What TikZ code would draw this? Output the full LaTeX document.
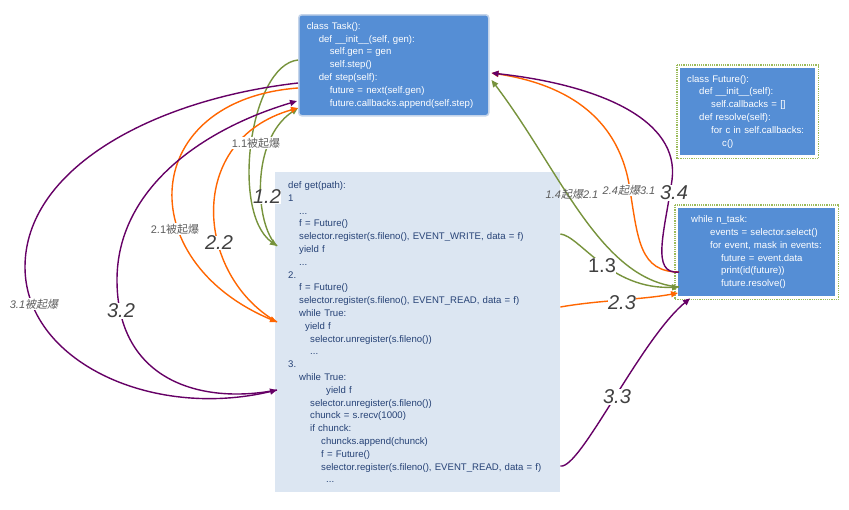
\documentclass[tikz,border=0pt]{standalone}
\usepackage{fontspec}
\setmainfont{Liberation Sans}
\newfontfamily\cjkfont{Noto Sans CJK SC}
\newfontfamily\cjkslant{Noto Sans CJK SC}[FakeSlant=0.2]
\usepackage{xcolor}
\usepackage{tikz}
\usetikzlibrary{arrows.meta, calc}
\definecolor{taskblue}{RGB}{85, 142, 213}
\definecolor{taskedge}{RGB}{196, 212, 234}
\definecolor{getfill}{RGB}{220, 230, 242}
\definecolor{gettext}{RGB}{38, 66, 118}
\definecolor{framegreen}{RGB}{155, 187, 89}
\definecolor{stepgreen}{RGB}{119, 147, 60}
\definecolor{steporange}{RGB}{255, 102, 0}
\definecolor{steppurple}{RGB}{102, 0, 102}
\definecolor{labelgray}{RGB}{64, 64, 64}

\newcommand{\ind}[1]{\hspace*{#1pt}}
\newcommand{\zh}[1]{{\cjkfont #1}}
\newcommand{\zhit}[1]{{\cjkslant #1}}

\tikzset{
    codebox/.style={anchor=north west, fill=taskblue, text=white, align=left,
                    font=\fontsize{9.6}{12.8}\selectfont, inner ysep=0pt},
    getbox/.style={anchor=north west, fill=getfill, text=gettext, align=left,
                   font=\fontsize{9.6}{12.8}\selectfont, inner ysep=0pt},
    dotframe/.style={draw=framegreen, densely dotted, line width=1.2pt},
    flow/.style={line width=1.4pt, -{Triangle[length=7pt, width=6pt]}},
    biglabel/.style={font=\fontsize{20}{20}\selectfont\itshape, text=labelgray,
                     fill=white, inner sep=0.5pt},
    smalllabel/.style={font=\fontsize{11}{11}\selectfont, text=labelgray!85,
                       fill=white, inner sep=0.5pt}
}

\begin{document}
\begin{tikzpicture}[x=1pt, y=-1pt]
    \path[use as bounding box, fill=white] (0,0) rectangle (849,509);

    % code boxes
    \node[codebox, draw=taskedge, line width=1.5pt, rounded corners=3pt,
          text width=174pt, inner xsep=8pt, minimum height=101pt] (task) at (298,14) {
        class Task():\\
        \ind{12}def \_\_init\_\_(self, gen):\\
        \ind{23}self.gen = gen\\
        \ind{23}self.step()\\
        \ind{12}def step(self):\\
        \ind{23}future = next(self.gen)\\
        \ind{23}future.callbacks.append(self.step)
    };
    \node[getbox, text width=259pt, inner xsep=13pt, minimum height=320pt] (get) at (275,172) {
        def get(path):\\
        1\\
        \ind{11}...\\
        \ind{11}f = Future()\\
        \ind{11}selector.register(s.fileno(), EVENT\_WRITE, data = f)\\
        \ind{11}yield f\\
        \ind{11}...\\
        2.\\
        \ind{11}f = Future()\\
        \ind{11}selector.register(s.fileno(), EVENT\_READ, data = f)\\
        \ind{11}while True:\\
        \ind{17}yield f\\
        \ind{22}selector.unregister(s.fileno())\\
        \ind{22}...\\
        3.\\
        \ind{11}while True:\\
        \ind{38}yield f\\
        \ind{22}selector.unregister(s.fileno())\\
        \ind{22}chunck = s.recv(1000)\\
        \ind{22}if chunck:\\
        \ind{33}chuncks.append(chunck)\\
        \ind{33}f = Future()\\
        \ind{33}selector.register(s.fileno(), EVENT\_READ, data = f)\\
        \ind{38}...
    };
    \node[codebox, text width=121pt, inner xsep=7pt, minimum height=87pt] (fut) at (680,68) {
        class Future():\\
        \ind{12}def \_\_init\_\_(self):\\
        \ind{24}self.callbacks = []\\
        \ind{12}def resolve(self):\\
        \ind{24}for c in self.callbacks:\\
        \ind{35}c()
    };
    \node[codebox, text width=137pt, inner xsep=10pt, minimum height=88pt] (loop) at (678,208) {
        \ind{3}while n\_task:\\
        \ind{22}events = selector.select()\\
        \ind{22}for event, mask in events:\\
        \ind{33}future = event.data\\
        \ind{33}print(id(future))\\
        \ind{33}future.resolve()
    };
    \draw[dotframe] ($(fut.north west)+(-3,-3)$) rectangle ($(fut.south east)+(3,3)$);
    \draw[dotframe] ($(loop.north west)+(-3,-3)$) rectangle ($(loop.south east)+(3,3)$);

    % ports
    \coordinate (t-g)   at ($(task.north west)+(0,46)$);
    \coordinate (t-p)   at ($(task.north west)+(0,69)$);
    \coordinate (t-o)   at ($(task.north west)+(0,74)$);
    \coordinate (t-pin) at ($(task.north west)+(-1,87)$);
    \coordinate (t-in)  at ($(task.north west)+(0,94)$);
    \coordinate (t-rpo) at ($(task.north east)+(2,59)$);
    \coordinate (t-rg)  at ($(task.north east)+(2,66)$);
    \coordinate (g-1)   at ($(get.north west)+(2,74)$);
    \coordinate (g-2)   at ($(get.north west)+(2,150)$);
    \coordinate (g-3)   at ($(get.north west)+(2,218)$);
    \coordinate (g-r1)  at ($(get.north east)+(0,62)$);
    \coordinate (g-r2)  at ($(get.north east)+(0,135)$);
    \coordinate (g-r3)  at ($(get.north east)+(0,294)$);
    \coordinate (l-po)  at ($(loop.north west)+(1,64)$);
    \coordinate (l-g)   at ($(loop.north west)+(1,79)$);
    \coordinate (l-o)   at ($(loop.north west)+(0,85)$);
    \coordinate (l-b)   at ($(loop.south west)+(12,2)$);

    % left loops
    \draw[flow, stepgreen] (t-g) .. controls (250,65) and (230,212) .. (g-1);
    \draw[flow, stepgreen] (g-1) .. controls (255,225) and (250,140) .. (t-in);
    \draw[flow, steporange] (t-o) .. controls (140,100) and (130,260) .. (g-2);
    \draw[flow, steporange] (g-2) .. controls (195,275) and (185,140) .. (t-in);
    \draw[flow, steppurple] (t-p) .. controls (150,100) and (25,170) .. (25,267)
        .. controls (25,360) and (150,420) .. (g-3);
    \draw[flow, steppurple] (g-3) .. controls (200,405) and (117,380) .. (117,280)
        .. controls (117,190) and (200,130) .. (t-pin);

    % right side
    \draw[flow, stepgreen] (g-r1) .. controls (580,236) and (610,290) .. (l-g);
    \draw[flow, stepgreen] (l-g) .. controls (600,280) and (560,170) .. (t-rg);
    \draw[flow, steporange] (g-r2) .. controls (600,300) and (640,300) .. (l-o);
    \draw[flow, steporange] (l-po) .. controls (640,272) and (638,240) .. (630,190)
        .. controls (620,120) and (570,85) .. (t-rpo);
    \draw[flow, steppurple] (l-po) .. controls (650,275) and (665,230) .. (672,180)
        .. controls (680,120) and (600,85) .. (t-rpo);
    \draw[flow, steppurple] (g-r3) .. controls (580,470) and (640,340) .. (l-b);

    % labels
    \node[smalllabel] (lab11) at (256,143) {1.1\zh{被起爆}};
    \node[biglabel] (lab12) at (267,197) {1.2};
    \node[smalllabel] (lab21) at (175,229) {2.1\zh{被起爆}};
    \node[biglabel] (lab22) at (219,243) {2.2};
    \node[smalllabel, font=\fontsize{11}{11}\selectfont\itshape] (lab31) at (34,304) {3.1\zhit{被起爆}};
    \node[biglabel] (lab32) at (121,311) {3.2};
    \node[smalllabel, font=\fontsize{11}{11}\selectfont\itshape, fill=none] (lab14) at (572,194) {1.4\zhit{起爆}2.1};
    \node[smalllabel, font=\fontsize{11}{11}\selectfont\itshape] (lab24) at (629,190) {2.4\zhit{起爆}3.1};
    \node[biglabel] (lab34) at (674,193) {3.4};
    \node[biglabel, font=\fontsize{20}{20}\selectfont] (lab13) at (602,266) {1.3};
    \node[biglabel] (lab23) at (622,303) {2.3};
    \node[biglabel] (lab33) at (617,397) {3.3};
\end{tikzpicture}
\end{document}
